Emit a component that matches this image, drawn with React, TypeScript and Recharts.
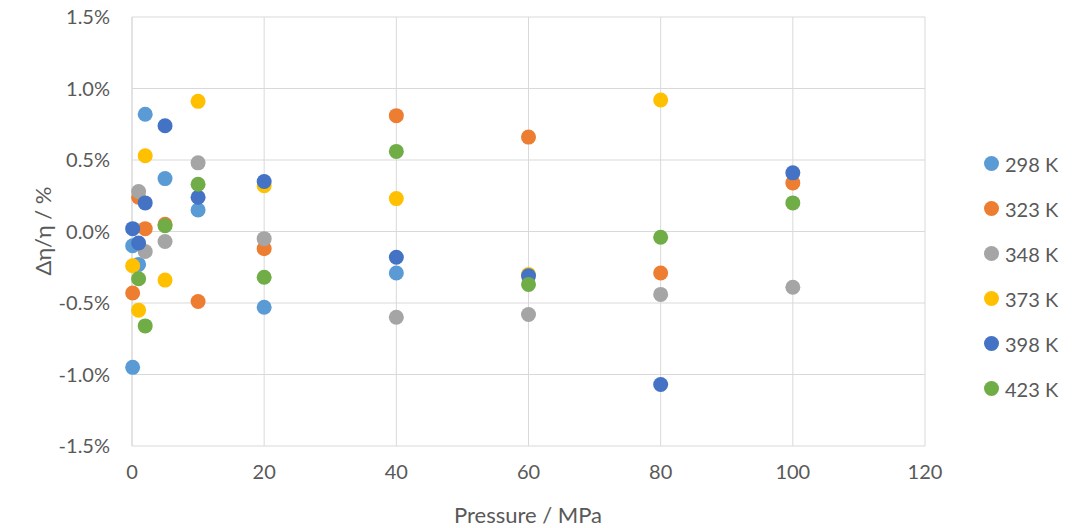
import React from "react";
import { ScatterChart, Scatter, XAxis, YAxis, CartesianGrid } from "recharts";

// pressure in MPa, deviation in %
const p298 = [0.1, 0.1, 1, 2, 5, 10, 20, 40];
const v298 = [-0.1, -0.95, -0.23, 0.82, 0.37, 0.15, -0.53, -0.29];

const p323 = [0.1, 1, 2, 5, 10, 20, 40, 60, 80, 100];
const v323 = [-0.43, 0.24, 0.02, 0.05, -0.49, -0.12, 0.81, 0.66, -0.29, 0.34];

const p348 = [1, 2, 5, 10, 20, 40, 60, 80, 100];
const v348 = [0.28, -0.14, -0.07, 0.48, -0.05, -0.6, -0.58, -0.44, -0.39];

const p373 = [0.1, 1, 2, 5, 10, 20, 40, 60, 80];
const v373 = [-0.24, -0.55, 0.53, -0.34, 0.91, 0.32, 0.23, -0.3, 0.92];

const p398 = [0.1, 1, 2, 5, 10, 20, 40, 60, 80, 100];
const v398 = [0.02, -0.08, 0.2, 0.74, 0.24, 0.35, -0.18, -0.31, -1.07, 0.41];

const p423 = [1, 2, 5, 10, 20, 40, 60, 80, 100];
const v423 = [-0.33, -0.66, 0.04, 0.33, -0.32, 0.56, -0.37, -0.04, 0.2];

const xTicks = [0, 20, 40, 60, 80, 100, 120];
const yTicks = [-1.5, -1, -0.5, 0, 0.5, 1, 1.5];

const toPoints = (p: number[], v: number[]) => p.map((x, i) => ({ x, y: v[i] }));

const series = [
  { name: "298 K", color: "#5B9BD5", data: toPoints(p298, v298) },
  { name: "323 K", color: "#ED7D31", data: toPoints(p323, v323) },
  { name: "348 K", color: "#A5A5A5", data: toPoints(p348, v348) },
  { name: "373 K", color: "#FFC000", data: toPoints(p373, v373) },
  { name: "398 K", color: "#4472C4", data: toPoints(p398, v398) },
  { name: "423 K", color: "#70AD47", data: toPoints(p423, v423) },
];

const font = "Lato, 'Open Sans', sans-serif";
const textColor = "#595959";

export default function App() {
  return (
    <div style={{ position: "absolute", left: 0, top: 0, width: 1074, height: 528, fontFamily: font }}>
      <ScatterChart width={1074} height={528} margin={{ top: 17, right: 149, bottom: 0, left: 0 }}>
        <CartesianGrid stroke="#d9d9d9" />
        <XAxis
          type="number"
          dataKey="x"
          domain={[0, 120]}
          ticks={xTicks}
          height={82}
          axisLine={false}
          tickLine={false}
          tickMargin={13}
          tick={{ fill: textColor, fontSize: 20, fontFamily: font }}
          label={{
            content: () => (
              <text x={528} y={523} textAnchor="middle" fill={textColor} fontSize={22} fontFamily={font}>
                Pressure / MPa
              </text>
            ),
          }}
        />
        <YAxis
          type="number"
          dataKey="y"
          domain={[-1.5, 1.5]}
          ticks={yTicks}
          width={132}
          axisLine={{ stroke: "#d9d9d9" }}
          tickLine={false}
          tickMargin={16}
          tickFormatter={(v: number) => v.toFixed(1) + "%"}
          tick={{ fill: textColor, fontSize: 20, fontFamily: font }}
          label={{
            content: () => (
              <text
                x={42}
                y={231}
                transform="rotate(-90 42 231)"
                textAnchor="middle"
                dominantBaseline="central"
                fill={textColor}
                fontSize={22}
                fontFamily={font}
              >
                Δη/η / %
              </text>
            ),
          }}
        />
        {series.map((s) => (
          <Scatter
            key={s.name}
            name={s.name}
            data={s.data}
            fill={s.color}
            isAnimationActive={false}
            shape={(props: any) => <circle cx={props.cx} cy={props.cy} r={7.5} fill={s.color} />}
          />
        ))}
      </ScatterChart>
      <div style={{ position: "absolute", left: 984, top: 141 }}>
        {series.map((s) => (
          <div key={s.name} style={{ display: "flex", alignItems: "center", height: 45 }}>
            <span
              style={{ width: 15, height: 15, borderRadius: "50%", background: s.color, display: "inline-block", marginRight: 6, flexShrink: 0 }}
            />
            <span style={{ color: textColor, fontSize: 20, lineHeight: "20px" }}>{s.name}</span>
          </div>
        ))}
      </div>
    </div>
  );
}
